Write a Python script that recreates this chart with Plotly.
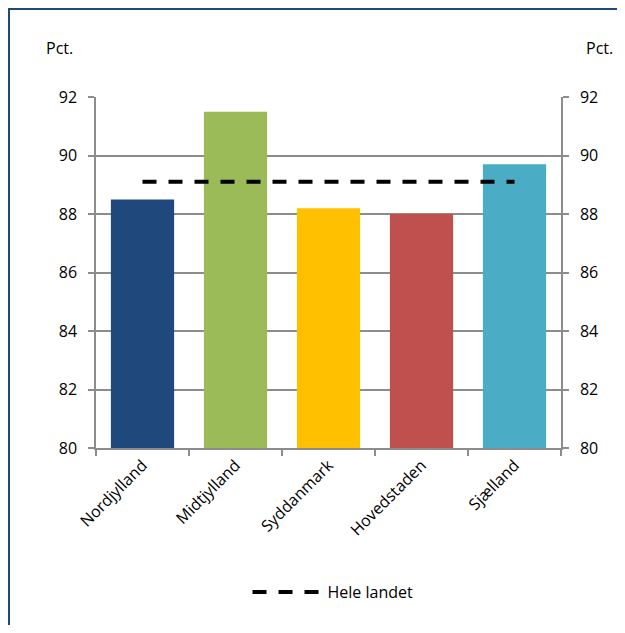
import plotly.graph_objects as go

categories = ["Nordjylland", "Midtjylland", "Syddanmark", "Hovedstaden", "Sjælland"]
values = [88.5, 91.5, 88.2, 88.0, 89.7]
colors = ["#1F497D", "#9BBB59", "#FFC000", "#C0504D", "#4BACC6"]
national_value = 89.1
national_label = "Hele landet"
y_ticks = [80, 82, 84, 86, 88, 90, 92]

OFF = 8  # page body margin
W, H = 625 - 2 * OFF, 633 - 2 * OFF
# target window pixels of plot area: x 96..561, y 97..448
L, T = 96 - OFF, 97 - OFF
R = W - (561 - OFF)
B = H - (448 - OFF)
pw, ph = W - L - R, H - T - B


def px(x):
    return (x - OFF - L) / pw


def py(y):
    return (H - B - (y - OFF)) / ph


font = dict(family="Open Sans, Liberation Sans, sans-serif", size=16, color="#000000")
grid = "#8C8C8C"
frame = "#1F497D"

fig = go.Figure()
fig.add_trace(go.Bar(x=categories, y=[v - 80 for v in values], base=80,
                     marker=dict(color=colors, line=dict(width=0)),
                     width=0.68, showlegend=False, hoverinfo="skip"))
fig.add_trace(go.Scatter(x=categories, y=[national_value] * len(categories),
                         mode="lines", name=national_label,
                         line=dict(color="#000000", width=4, dash="14px,12px")))
fig.add_trace(go.Scatter(x=categories, y=[None] * len(categories), yaxis="y2",
                         showlegend=False, hoverinfo="skip"))

axis_common = dict(showline=True, linecolor=grid, linewidth=1.5,
                   ticks="outside", ticklen=6, tickcolor=grid, tickwidth=1.5)

fig.update_layout(
    width=W, height=H,
    margin=dict(l=L, r=R, t=T, b=B),
    paper_bgcolor="white", plot_bgcolor="white",
    font=font,
    xaxis=dict(type="category", showgrid=False, tickangle=-45,
               tickson="boundaries", tickfont=dict(size=16), **axis_common),
    yaxis=dict(range=[80, 92], tickvals=y_ticks, showgrid=True, gridcolor=grid, gridwidth=1.5,
               zeroline=False, tickfont=dict(size=16), ticklabelstandoff=8, **axis_common),
    yaxis2=dict(range=[80, 92], tickvals=y_ticks, overlaying="y", side="right",
                showgrid=False, zeroline=False, tickfont=dict(size=16),
                ticklabelstandoff=8, **axis_common),
    legend=dict(orientation="h", x=px(333), xanchor="center", y=py(592),
                yanchor="middle", font=dict(size=16), bgcolor="rgba(0,0,0,0)",
                itemwidth=70),
    annotations=[
        dict(text="Pct.", xref="paper", yref="paper", x=px(59), y=py(48),
             showarrow=False, xanchor="center", yanchor="middle", font=dict(size=16)),
        dict(text="Pct.", xref="paper", yref="paper", x=px(615), y=py(48),
             showarrow=False, xanchor="right", yanchor="middle", font=dict(size=16)),
    ],
    shapes=[
        dict(type="line", xref="paper", yref="paper", x0=px(9), x1=px(9),
             y0=py(640), y1=py(8), line=dict(color=frame, width=2), layer="below"),
        dict(type="line", xref="paper", yref="paper", x0=px(8), x1=px(640),
             y0=py(9), y1=py(9), line=dict(color=frame, width=2), layer="below"),
    ],
)

fig.write_html("out.html")
